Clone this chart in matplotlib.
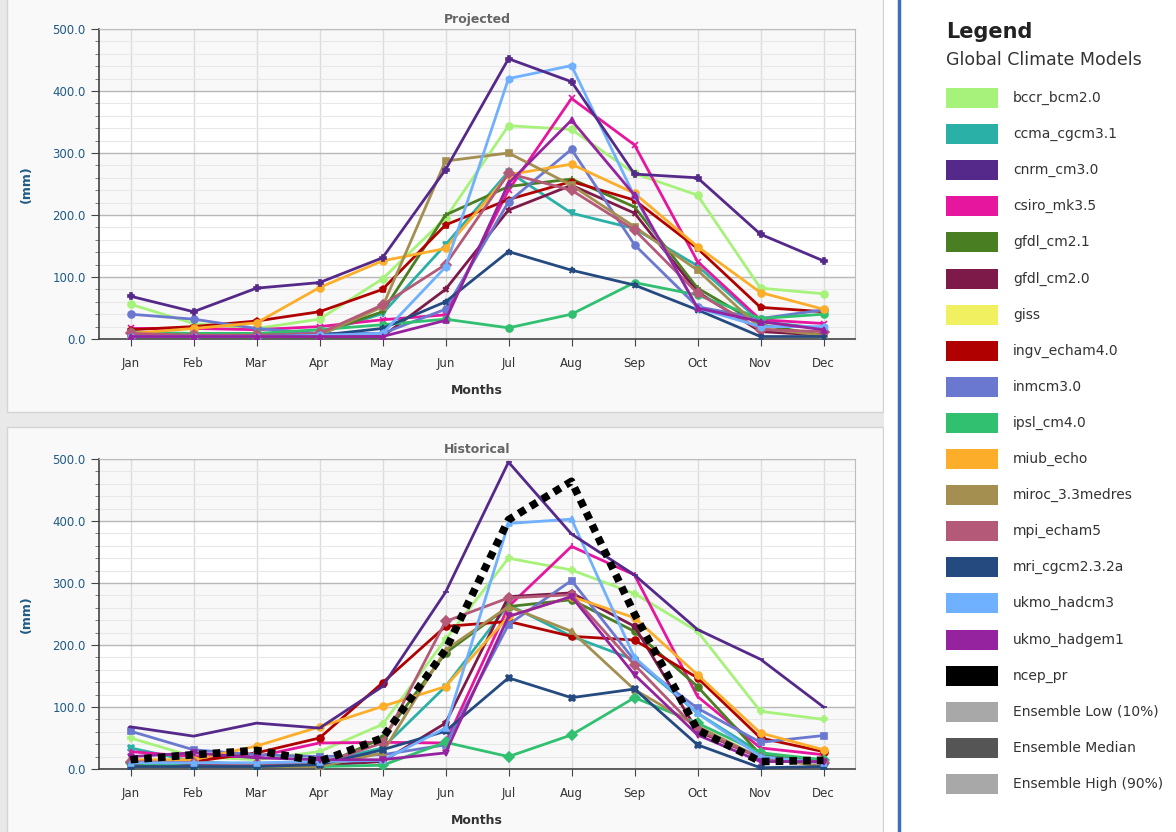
import matplotlib.pyplot as plt
from matplotlib.patches import Rectangle
from matplotlib.lines import Line2D
import numpy as np

months = ['Jan', 'Feb', 'Mar', 'Apr', 'May', 'Jun', 'Jul', 'Aug', 'Sep', 'Oct', 'Nov', 'Dec']

models = ['bccr_bcm2.0', 'ccma_cgcm3.1', 'cnrm_cm3.0', 'csiro_mk3.5', 'gfdl_cm2.1',
          'gfdl_cm2.0', 'giss', 'ingv_echam4.0', 'inmcm3.0', 'ipsl_cm4.0', 'miub_echo',
          'miroc_3.3medres', 'mpi_echam5', 'mri_cgcm2.3.2a', 'ukmo_hadcm3', 'ukmo_hadgem1',
          'ncep_pr', 'Ensemble Low (10%)', 'Ensemble Median', 'Ensemble High (90%)']

colors = ['#a6f27a', '#2bb0a8', '#55298a', '#e6169e', '#4a7e23', '#7d1a4a', '#f0f060',
          '#b00000', '#6a78cf', '#30c070', '#fcae2a', '#a48f50', '#b45a78', '#244a80',
          '#6fb0ff', '#9523a0', '#000000', '#a8a8a8', '#555555', '#a8a8a8']

# projected precipitation (mm)
proj_bccr = [56, 25, 17, 32, 97, 195, 344, 338, 267, 232, 82, 73]
proj_ccma = [9, 9, 9, 9, 41, 152, 270, 203, 178, 118, 28, 17]
proj_cnrm = [69, 44, 82, 91, 131, 273, 452, 415, 266, 260, 169, 126]
proj_csiro = [17, 17, 15, 20, 31, 39, 240, 388, 313, 125, 31, 25]
proj_gfdl21 = [9, 6, 6, 9, 44, 200, 246, 258, 213, 82, 23, 6]
proj_gfdl20 = [6, 4, 4, 4, 4, 80, 208, 248, 203, 76, 12, 6]
proj_ingv = [15, 20, 29, 44, 80, 184, 225, 254, 224, 146, 51, 44]
proj_inmcm = [40, 32, 17, 9, 9, 48, 221, 306, 152, 52, 33, 47]
proj_ipsl = [11, 9, 9, 15, 23, 32, 18, 40, 91, 71, 33, 40]
proj_miub = [9, 17, 26, 83, 126, 146, 265, 282, 235, 149, 75, 48]
proj_miroc = [6, 6, 6, 6, 52, 287, 300, 248, 181, 111, 17, 6]
proj_mpi = [9, 6, 6, 9, 55, 120, 267, 240, 176, 74, 15, 12]
proj_mri = [4, 4, 4, 6, 17, 60, 141, 111, 87, 47, 4, 4]
proj_hadcm3 = [4, 4, 4, 6, 9, 116, 420, 441, 230, 50, 20, 20]
proj_hadgem1 = [4, 4, 4, 4, 4, 30, 251, 353, 232, 50, 28, 15]

# historical precipitation (mm)
hist_bccr = [50, 20, 15, 28, 72, 209, 340, 321, 283, 222, 93, 80]
hist_ccma = [34, 12, 7, 10, 34, 133, 265, 214, 176, 90, 26, 12]
hist_cnrm = [68, 53, 74, 66, 133, 285, 495, 379, 313, 225, 177, 100]
hist_csiro = [28, 20, 20, 42, 43, 42, 262, 359, 313, 117, 34, 23]
hist_gfdl21 = [4, 4, 4, 4, 50, 187, 262, 273, 222, 133, 23, 10]
hist_gfdl20 = [8, 6, 6, 6, 12, 74, 278, 284, 230, 61, 18, 12]
hist_ingv = [12, 12, 26, 50, 139, 230, 238, 214, 208, 147, 50, 28]
hist_inmcm = [61, 31, 23, 20, 23, 39, 233, 304, 175, 98, 43, 54]
hist_ipsl = [10, 4, 4, 4, 6, 43, 20, 55, 115, 74, 26, 15]
hist_miub = [15, 15, 37, 68, 101, 133, 246, 278, 244, 152, 58, 31]
hist_miroc = [4, 4, 4, 4, 26, 192, 262, 222, 128, 69, 18, 4]
hist_mpi = [12, 10, 8, 8, 42, 238, 276, 281, 168, 63, 18, 10]
hist_mri = [4, 4, 4, 7, 31, 61, 147, 115, 129, 39, 2, 4]
hist_hadcm3 = [10, 10, 10, 12, 14, 66, 396, 403, 180, 90, 20, 10]
hist_hadgem1 = [20, 26, 18, 15, 15, 26, 246, 278, 152, 55, 12, 12]
hist_ncep = [15, 23, 30, 12, 50, 192, 402, 464, 250, 63, 12, 14]

proj_series = [('bccr_bcm2.0', proj_bccr, 'o'), ('ccma_cgcm3.1', proj_ccma, 'v'),
               ('csiro_mk3.5', proj_csiro, 'x'), ('gfdl_cm2.1', proj_gfdl21, '+'),
               ('gfdl_cm2.0', proj_gfdl20, '*'), ('ingv_echam4.0', proj_ingv, 'p'),
               ('inmcm3.0', proj_inmcm, 'o'), ('ipsl_cm4.0', proj_ipsl, 'o'),
               ('miub_echo', proj_miub, 'o'), ('miroc_3.3medres', proj_miroc, 's'),
               ('mpi_echam5', proj_mpi, 'D'), ('mri_cgcm2.3.2a', proj_mri, '*'),
               ('ukmo_hadcm3', proj_hadcm3, 'h'), ('ukmo_hadgem1', proj_hadgem1, '^'),
               ('cnrm_cm3.0', proj_cnrm, 'P')]

hist_series = [('bccr_bcm2.0', hist_bccr, 'P'), ('ccma_cgcm3.1', hist_ccma, 'X'),
               ('csiro_mk3.5', hist_csiro, '|'), ('gfdl_cm2.1', hist_gfdl21, 'o'),
               ('gfdl_cm2.0', hist_gfdl20, 'p'), ('ingv_echam4.0', hist_ingv, 'o'),
               ('inmcm3.0', hist_inmcm, 's'), ('ipsl_cm4.0', hist_ipsl, 'D'),
               ('miub_echo', hist_miub, 'o'), ('miroc_3.3medres', hist_miroc, '^'),
               ('mpi_echam5', hist_mpi, 'D'), ('mri_cgcm2.3.2a', hist_mri, 'X'),
               ('ukmo_hadcm3', hist_hadcm3, '^'), ('ukmo_hadgem1', hist_hadgem1, 'v'),
               ('cnrm_cm3.0', hist_cnrm, '_')]

color_of = dict(zip(models, colors))

W, H = 1176, 832
fig = plt.figure(figsize=(W / 100, H / 100), dpi=100)
fig.patch.set_facecolor('#e9e9e9')

# panel backgrounds (pixel coords -> figure fraction)
def px_rect(x0, y0, x1, y1, z=-5, **kw):
    r = Rectangle((x0 / W, 1 - y1 / H), (x1 - x0) / W, (y1 - y0) / H,
                  transform=fig.transFigure, zorder=z, **kw)
    fig.patches.append(r)

px_rect(7, -2, 883, 412, facecolor='#f9f9f9', edgecolor='#d4d4d4', lw=1)
px_rect(7, 427, 883, 834, facecolor='#f9f9f9', edgecolor='#d4d4d4', lw=1)
px_rect(884, -2, 1178, 834, facecolor='white', edgecolor='none')
fig.add_artist(Line2D([899 / W, 899 / W], [0, 1], transform=fig.transFigure,
                      color='#3d6fbf', lw=2.5))


def setup_axes(ax, title):
    ax.set_facecolor('white')
    ax.set_xlim(-0.5, 11.5)
    ax.set_ylim(0, 500)
    for lo in [0, 200, 400]:
        ax.axhspan(lo, lo + 100, color='#f8f8f8', zorder=0)
    ax.set_yticks(np.arange(0, 501, 100))
    ax.set_yticks(np.arange(0, 501, 20), minor=True)
    ax.set_yticklabels(['%.1f' % v for v in np.arange(0, 501, 100)])
    ax.set_xticks(range(12))
    ax.set_xticklabels(months)
    ax.grid(which='major', axis='y', color='#b8b8b8', lw=1, zorder=1)
    ax.grid(which='minor', axis='y', color='#e8e8e8', lw=0.8, zorder=1)
    ax.grid(which='major', axis='x', color='#dcdcdc', lw=1, zorder=1)
    ax.tick_params(axis='y', colors='#444444', labelcolor='#1f5a85', labelsize=8.5,
                   length=6, direction='out')
    ax.tick_params(axis='y', which='minor', length=3, colors='#666666')
    ax.tick_params(axis='x', colors='#444444', labelcolor='#333333', labelsize=8.5,
                   length=5, pad=8)
    for s in ['top', 'right']:
        ax.spines[s].set_color('#bdbdbd')
    for s in ['left', 'bottom']:
        ax.spines[s].set_color('#444444')
        ax.spines[s].set_linewidth(1.2)
    ax.set_ylabel('(mm)', fontsize=9, fontweight='bold', color='#1f5a85', labelpad=14)
    ax.set_xlabel('Months', fontsize=9, fontweight='bold', color='#333333', labelpad=10)
    ax.set_title(title, fontsize=9, fontweight='bold', color='#666666', pad=4)
    ax.set_axisbelow(True)


x = np.arange(12)

ax1 = fig.add_axes([99 / W, 1 - 339 / H, (855 - 99) / W, (339 - 29) / H])
setup_axes(ax1, 'Projected')
for name, vals, mk in proj_series:
    c = color_of[name]
    ax1.plot(x, vals, color=c, lw=2, marker=mk, ms=5, mfc=c, mec=c, mew=1.2, zorder=3)

ax2 = fig.add_axes([99 / W, 1 - 769 / H, (855 - 99) / W, (769 - 459) / H])
setup_axes(ax2, 'Historical')
for name, vals, mk in hist_series:
    c = color_of[name]
    ax2.plot(x, vals, color=c, lw=2, marker=mk, ms=5, mfc=c, mec=c, mew=1.2, zorder=3)
ax2.plot(x, hist_ncep, color='black', lw=5.5, linestyle=(0, (1, 0.8)), zorder=4)

# legend panel
fig.text(946 / W, 1 - 32 / H, 'Legend', fontsize=15, fontweight='bold', color='#222222',
         va='center', ha='left')
fig.text(946 / W, 1 - 60 / H, 'Global Climate Models', fontsize=12.5, color='#333333',
         va='center', ha='left')
for i, (name, c) in enumerate(zip(models, colors)):
    yc = 98 + i * 36.1
    px_rect(946, yc - 10, 998, yc + 10, z=1, facecolor=c, edgecolor='none')
    fig.text(1013 / W, 1 - yc / H, name, fontsize=10, color='#333333',
             va='center', ha='left')

fig.savefig('out.png', dpi=100, facecolor=fig.get_facecolor())
